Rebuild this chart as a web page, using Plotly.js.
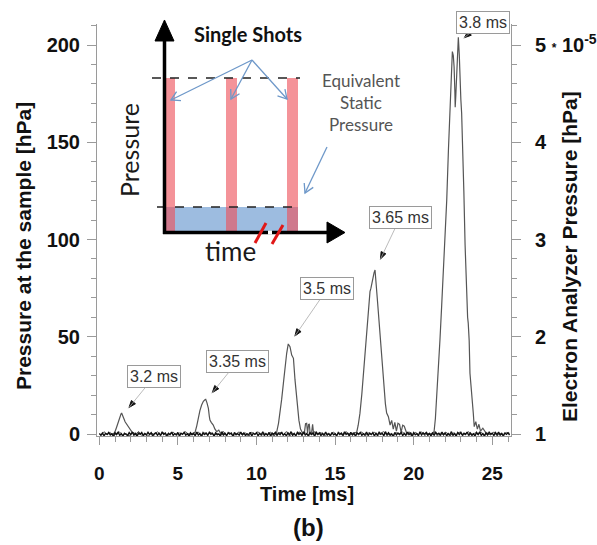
<!DOCTYPE html>
<html>
<head>
<meta charset="utf-8">
<script src="https://cdn.plot.ly/plotly-3.0.1.min.js"></script>
<style>
  html, body { margin: 0; padding: 0; background: #fff; }
  #chart { width: 597px; height: 545px; }
</style>
</head>
<body>
<div id="chart"></div>
<script>
// ---------------- DATA ----------------
// Noisy baseline (hPa), sampled every 0.1 ms from 0 ms
const baseStart = 0;
const baseStep = 0.1;
const baseValues = [
  0.2,-0.6,0.5,-0.9,0.3,-0.2,0.8,-0.5,0.1,-1.0,
  0.6,-0.3,0.9,-0.7,0.2,-1.1,0.4,0.0,-0.8,0.7,
  -0.4,1.0,-0.6,0.3,-1.2,0.5,-0.1,0.8,-0.9,0.2,
  -0.5,0.9,-0.3,0.6,-1.0,0.1,0.7,-0.6,0.4,-0.8,
  1.1,-0.2,0.5,-0.9,0.3,-0.4,1.0,-0.7,0.2,-0.3,
  0.8,-1.1,0.4,-0.2,0.9,-0.6,0.1,-0.9,0.6,-0.4,
  0.3,-0.8,1.0,-0.5,0.2,-1.0,0.7,-0.3,0.5,-0.7,
  0.9,-0.2,0.4,-1.1,0.6,-0.4,0.1,-0.8,1.2,-0.5,
  0.3,-0.9,0.7,-0.1,0.5,-1.2,0.8,-0.4,0.2,-0.6,
  1.0,-0.3,0.6,-0.8,0.1,-0.5,0.9,-1.0,0.4,-0.2,
  0.7,-0.9,0.3,-0.4,1.1,-0.7,0.2,-0.6,0.8,-1.1,
  0.5,-0.2,0.9,-0.8,0.4,-0.3,1.0,-0.6,0.1,-0.9,
  0.6,-0.4,1.2,-0.7,0.3,-1.0,0.8,-0.2,0.5,-0.8,
  1.1,-0.5,0.2,-0.9,0.7,-0.3,0.4,-1.2,0.9,-0.1,
  0.6,-0.8,0.3,-0.5,1.0,-0.6,0.2,-0.9,0.8,-0.4,
  0.1,-1.0,0.7,-0.3,0.5,-0.7,1.1,-0.2,0.4,-0.9,
  0.9,-0.5,0.3,-1.1,0.6,-0.1,0.8,-0.7,0.2,-0.4,
  1.0,-0.8,0.5,-0.3,0.7,-1.0,0.4,-0.6,0.9,-0.2,
  0.3,-0.9,1.2,-0.4,0.6,-0.7,0.1,-1.1,0.8,-0.5,
  0.5,-0.2,0.9,-0.8,0.3,-0.6,1.0,-0.3,0.4,-1.0,
  0.7,-0.4,0.2,-0.9,1.1,-0.5,0.6,-0.1,0.8,-0.7,
  0.3,-1.0,0.5,-0.6,0.9,-0.2,0.4,-0.8,1.0,-0.4,
  0.6,-0.9,0.2,-0.5,1.2,-0.7,0.3,-1.1,0.7,-0.3,
  0.9,-0.6,0.4,-0.2,1.0,-0.8,0.5,-0.4,0.1,-1.0,
  0.8,-0.3,1.1,-0.7,0.2,-0.9,0.6,-0.5,0.9,-0.1,
  0.4,-0.8,0.7,-0.4,1.0,-0.6,0.3,-1.1,0.5,-0.2,
  0.6,-0.5
];
// Second (grey) baseline record, sampled every 0.2 ms from 0.1 ms
const base2Start = 0.1;
const base2Step = 0.2;
const base2Values = [
  -0.9,1.2,-0.4,0.8,-1.3,0.5,1.0,-0.7,0.3,-1.1,
  0.9,-0.2,1.3,-0.8,0.4,-1.2,0.7,-0.5,1.1,-0.3,
  0.6,-1.4,0.2,1.0,-0.9,0.5,-0.1,1.2,-1.0,0.3,
  -0.6,1.1,-1.3,0.7,-0.2,0.9,-0.8,0.4,-1.2,1.3,
  -0.5,0.8,-1.0,0.2,1.1,-0.7,0.6,-1.3,0.9,-0.3,
  1.2,-0.9,0.4,-0.6,1.0,-1.1,0.3,0.8,-0.4,1.3,
  -1.2,0.5,-0.8,1.1,-0.2,0.7,-1.0,0.4,1.2,-0.6,
  0.9,-1.3,0.2,-0.7,1.0,-0.4,0.6,-1.1,1.3,-0.9,
  0.3,0.8,-0.5,1.1,-1.2,0.6,-0.3,0.9,-1.0,0.5,
  1.2,-0.8,0.2,-1.1,0.7,-0.4,1.0,-0.6,0.3,-1.3,
  0.9,-0.2,1.1,-0.9,0.5,-0.7,1.3,-1.0,0.4,-0.5,
  0.8,-1.2,0.6,-0.3,1.0,-0.8,0.2,1.2,-1.1,0.7,
  -0.4,0.9,-1.0,0.5,-0.6,1.1,-0.9,0.3,-0.2,0.8,
  0.4
];

// Single-shot pulses (time in ms, pressure in hPa)
const shot320T = [0.6,0.8,0.95,1.0,1.1,1.2,1.3,1.38,1.42,1.48,1.56,1.64,1.75,1.85,1.95,2.06,2.2,2.4,2.6];
const shot320P = [0.4,-0.3,0.5,1.2,3.5,6.2,8.8,10.3,10.8,9.9,8.0,6.3,5.0,3.6,2.2,1.2,0.5,-0.2,0.3];

const shot335T = [5.6,5.8,6.0,6.09,6.2,6.3,6.4,6.51,6.62,6.72,6.77,6.85,6.94,7.0,7.04,7.12,7.25,7.35,7.47,7.6,7.7,7.85,8.0];
const shot335P = [0.3,-0.4,0.6,0.8,4.2,8.9,12.0,14.9,16.8,17.6,17.8,16.0,13.2,9.0,7.2,6.0,4.6,2.6,1.2,2.0,0.6,-0.3,0.4];

const shot350T = [10.8,11.0,11.2,11.28,11.4,11.5,11.6,11.71,11.82,11.92,12.02,12.13,12.24,12.3,12.35,12.45,12.53,12.6,12.7,12.8,12.93,13.05,13.12,13.19,13.25,13.31,13.36,13.41,13.5,13.57,13.63,13.75,13.9,14.1];
const shot350P = [0.2,-0.4,0.5,0.8,5.5,10.6,17.8,26.0,34.5,41.5,46.3,44.9,40.6,40.0,38.9,27.8,20.0,14.0,7.0,2.5,0.5,0.8,5.3,5.5,0.6,4.9,5.0,0.5,0.4,5.0,0.3,0.8,-0.3,0.4];

const shot365T = [15.8,16.0,16.2,16.37,16.47,16.58,16.7,16.8,16.9,17.01,17.12,17.22,17.28,17.35,17.41,17.48,17.54,17.62,17.7,17.79,17.88,17.96,18.04,18.11,18.2,18.28,18.39,18.5,18.6,18.7,18.8,18.9,19.0,19.1,19.2,19.3,19.4,19.55,19.7,19.9];
const shot365P = [0.3,-0.2,0.6,0.7,4.5,10.6,20.5,31.2,42.0,53.5,64.0,73.2,75.0,78.0,80.9,83.0,84.3,77.5,68.0,58.6,48.5,39.7,30.0,22.6,15.5,10.8,8.9,4.6,7.0,2.5,6.0,1.5,5.5,5.0,1.0,4.5,4.0,0.5,1.0,0.2];

const shot380T = [20.8,21.0,21.2,21.29,21.38,21.46,21.56,21.67,21.78,21.88,21.99,22.1,22.21,22.32,22.43,22.46,22.52,22.57,22.62,22.64,22.68,22.74,22.8,22.84,22.9,22.94,23.0,23.05,23.08,23.11,23.19,23.27,23.37,23.43,23.47,23.53,23.58,23.69,23.79,23.85,23.95,24.05,24.15,24.25,24.4,24.6,24.8,25.0];
const shot380P = [0.4,-0.2,0.5,0.7,8.0,17.5,32.0,48.3,66.0,82.6,95.0,120.0,146.0,170.0,194.0,196.6,194.5,188.8,176.0,168.0,174.0,188.8,200.0,204.0,195.0,180.0,172.0,165.0,158.0,150.0,125.0,97.0,65.4,60.0,57.0,48.0,31.2,17.5,10.8,3.8,6.3,2.5,5.0,1.5,3.0,0.5,-0.2,0.3];

// Labels of the pulses and where their arrows point (ms, hPa)
const shotLabels = ['3.2 ms','3.35 ms','3.5 ms','3.65 ms','3.8 ms'];
const labelT = [1.85, 7.15, 12.41, 17.86, 23.17];
const labelP = [13.2, 20.9, 50.0, 89.5, 203.4];

// Axis ticks
const xTicks = [0,5,10,15,20,25];
const yTicks = [0,50,100,150,200];
const y2Ticks = [1,2,3,4,5];
const y2TickText = ['1','2','3','4','5 <span style="font-size:12px">*</span> 10<sup>-5</sup>'];

// ---------------- LAYOUT HELPERS (pixels -> paper) ----------------
const W = 597, H = 545;
const ML = 97, MR = 86, MT = 24, MB = 109;
const PW = W - ML - MR, PH = H - MT - MB;
const PX = p => (p - ML) / PW;
const PY = p => (H - MB - p) / PH;

// Label box offsets (pixels) from the arrow point
const labelDX = [26, 26, 33, 20, 19];
const labelDY = [-32, -32, -48, -42, -16];

// ---------------- TRACES ----------------
const baseT = baseValues.map((_, i) => +(baseStart + i * baseStep).toFixed(2));
const base2T = base2Values.map((_, i) => +(base2Start + i * base2Step).toFixed(2));
const grey = '#555555';
const traces = [
  {x: base2T, y: base2Values, mode: 'lines', line: {color: '#555', width: 1}, showlegend: false, hoverinfo: 'skip'},
  {x: shot320T, y: shot320P, mode: 'lines', line: {color: grey, width: 1.2}, showlegend: false, hoverinfo: 'skip'},
  {x: shot335T, y: shot335P, mode: 'lines', line: {color: grey, width: 1.2}, showlegend: false, hoverinfo: 'skip'},
  {x: shot350T, y: shot350P, mode: 'lines', line: {color: grey, width: 1.2}, showlegend: false, hoverinfo: 'skip'},
  {x: shot365T, y: shot365P, mode: 'lines', line: {color: grey, width: 1.2}, showlegend: false, hoverinfo: 'skip'},
  {x: shot380T, y: shot380P, mode: 'lines', line: {color: grey, width: 1.2}, showlegend: false, hoverinfo: 'skip'},
  {x: baseT, y: baseValues, mode: 'lines', line: {color: '#111', width: 1.4}, showlegend: false, hoverinfo: 'skip'},
  {x: [null], y: [null], yaxis: 'y2', mode: 'lines', showlegend: false, hoverinfo: 'skip'}
];

// ---------------- ANNOTATIONS & SHAPES ----------------
const boldFont = (size) => ({family: 'Liberation Sans, Arial, sans-serif', size: size, color: '#111', weight: 'bold'});
const annotations = [];
const shapes = [];

shotLabels.forEach((txt, i) => {
  annotations.push({
    x: labelT[i], y: labelP[i], xref: 'x', yref: 'y',
    text: txt, showarrow: true, ax: labelDX[i], ay: labelDY[i],
    arrowhead: 0, arrowcolor: '#aaaaaa', arrowwidth: 0.8,
    font: {family: 'Liberation Sans, Arial, sans-serif', size: 16, color: '#333'},
    bgcolor: '#ffffff', bordercolor: '#9a9a9a', borderwidth: 1, borderpad: 2
  });
  // small black arrowhead at the pointed position (pixel-sized shape anchored to the data point)
  const L = Math.hypot(labelDX[i], labelDY[i]);
  const ux = labelDX[i] / L, uy = -labelDY[i] / L;   // toward the label, y up
  const px = -uy, py = ux;
  const t0 = 1, t1 = 8, hw = 2.6;
  const pts = [
    [ux * t0, uy * t0],
    [ux * t1 + px * hw, uy * t1 + py * hw],
    [ux * t1 - px * hw, uy * t1 - py * hw]
  ];
  shapes.push({
    type: 'path', xref: 'x', yref: 'y', xsizemode: 'pixel', ysizemode: 'pixel',
    xanchor: labelT[i], yanchor: labelP[i],
    path: 'M' + pts.map(p => p[0].toFixed(2) + ',' + p[1].toFixed(2)).join(' L') + ' Z',
    fillcolor: '#111', line: {color: '#111', width: 1}, layer: 'above'
  });
});

// axis titles
annotations.push({x: PX(23), y: PY(246), xref: 'paper', yref: 'paper', text: 'Pressure at the sample [hPa]',
  textangle: -90, showarrow: false, font: boldFont(21), xanchor: 'center', yanchor: 'middle'});
annotations.push({x: PX(569), y: PY(257), xref: 'paper', yref: 'paper', text: 'Electron Analyzer Pressure [hPa]',
  textangle: -90, showarrow: false, font: boldFont(21), xanchor: 'center', yanchor: 'middle'});
annotations.push({x: PX(307), y: PY(494), xref: 'paper', yref: 'paper', text: 'Time [ms]',
  showarrow: false, font: boldFont(20), xanchor: 'center', yanchor: 'middle'});
annotations.push({x: PX(308), y: PY(527), xref: 'paper', yref: 'paper', text: '(b)',
  showarrow: false, font: boldFont(24), xanchor: 'center', yanchor: 'middle'});

// inset texts
const insetFont = 'Lato, Open Sans, sans-serif';
annotations.push({x: PX(248), y: PY(34), xref: 'paper', yref: 'paper', text: 'Single Shots', showarrow: false,
  font: {family: insetFont, size: 20, color: '#111', weight: 'bold'}, xanchor: 'center', yanchor: 'middle'});
annotations.push({x: PX(129), y: PY(150), xref: 'paper', yref: 'paper', text: 'Pressure', textangle: -90, showarrow: false,
  font: {family: insetFont, size: 25, color: '#1a1a1a'}, xanchor: 'center', yanchor: 'middle'});
annotations.push({x: PX(230), y: PY(251), xref: 'paper', yref: 'paper', text: 'time', showarrow: false,
  font: {family: insetFont, size: 26, color: '#1a1a1a'}, xanchor: 'center', yanchor: 'middle'});
annotations.push({x: PX(361), y: PY(102), xref: 'paper', yref: 'paper', text: 'Equivalent<br>Static<br>Pressure', showarrow: false,
  font: {family: insetFont, size: 17, color: '#555'}, xanchor: 'center', yanchor: 'middle', align: 'center'});

// ---------------- INSET SHAPES ----------------
const rectPx = (x0, y0, x1, y1, fill) => shapes.push({type: 'rect', xref: 'paper', yref: 'paper',
  x0: PX(x0), x1: PX(x1), y0: PY(y1), y1: PY(y0), fillcolor: fill, line: {width: 0}, layer: 'above'});
const linePx = (x0, y0, x1, y1, color, width, dash) => shapes.push({type: 'line', xref: 'paper', yref: 'paper',
  x0: PX(x0), y0: PY(y0), x1: PX(x1), y1: PY(y1), line: {color: color, width: width, dash: dash || 'solid'}, layer: 'above'});
const pathPx = (pts, fill, color, width, closed) => {
  let d = pts.map((p, i) => (i ? 'L' : 'M') + PX(p[0]).toFixed(5) + ',' + PY(p[1]).toFixed(5)).join(' ');
  if (closed) d += ' Z';
  shapes.push({type: 'path', xref: 'paper', yref: 'paper', path: d, fillcolor: fill || 'rgba(0,0,0,0)',
    line: {color: color, width: width}, layer: 'above'});
};
const veePx = (x0, y0, x1, y1, color, width) => {
  const dx = x1 - x0, dy = y1 - y0, L = Math.hypot(dx, dy), ux = dx / L, uy = dy / L;
  const len = 10, a = 30 * Math.PI / 180, c = Math.cos(a), s = Math.sin(a);
  const lx = x1 - len * (ux * c - uy * s), ly = y1 - len * (uy * c + ux * s);
  const rx = x1 - len * (ux * c + uy * s), ry = y1 - len * (uy * c - ux * s);
  pathPx([[x0, y0], [x1, y1]], null, color, width);
  pathPx([[lx, ly], [x1, y1], [rx, ry]], null, color, width);
};

// blue "equivalent static" band, then red shots
rectPx(164, 207, 298, 233, 'rgba(140,176,218,0.85)');
rectPx(164, 78, 175, 233, 'rgba(238,80,90,0.62)');
rectPx(226, 78, 237, 233, 'rgba(238,80,90,0.62)');
rectPx(287, 78, 298, 233, 'rgba(238,80,90,0.62)');
// dashed levels
linePx(152, 78, 300, 78, '#222', 1.3, 'dash');
linePx(157, 207, 300, 207, '#222', 1.3, 'dash');
// axes of the sketch
linePx(164.5, 234, 164.5, 38, '#000', 3.5);
pathPx([[155, 41], [174, 41], [164.5, 20]], '#000', '#000', 1, true);
linePx(163, 232.5, 330, 232.5, '#000', 3.5);
pathPx([[327, 222], [327, 243], [345, 232.5]], '#000', '#000', 1, true);
// axis break marks
linePx(268, 232.5, 272, 232.5, '#fff', 4);
linePx(255, 243, 266, 223, '#e01818', 3);
linePx(272, 244, 283, 225, '#e01818', 3);
// blue pointer arrows
const blue = '#6e98c9';
veePx(252, 60, 171, 100, blue, 1.3);
veePx(252, 60, 231, 99, blue, 1.3);
veePx(252, 60, 287, 99, blue, 1.3);
veePx(327, 147, 305, 193, blue, 1.3);

// ---------------- LAYOUT ----------------
const axisGrey = '#9a9a9a';
const layout = {
  width: W, height: H,
  margin: {l: ML, r: MR, t: MT, b: MB, pad: 0},
  paper_bgcolor: '#fff', plot_bgcolor: '#fff',
  showlegend: false,
  xaxis: {
    range: [-0.146, 26.19], tickmode: 'array', tickvals: xTicks,
    showline: true, linecolor: axisGrey, linewidth: 1, showgrid: false, zeroline: false,
    ticks: 'outside', ticklen: 8, tickcolor: axisGrey, tickwidth: 1,
    minor: {tickmode: 'linear', tick0: 0, dtick: 1, ticks: 'outside', ticklen: 5, tickcolor: axisGrey, showgrid: false},
    tickfont: boldFont(19), ticklabelstandoff: 12
  },
  yaxis: {
    range: [-1.03, 210.8], tickmode: 'array', tickvals: yTicks,
    showline: true, linecolor: axisGrey, linewidth: 1, showgrid: false, zeroline: false,
    ticks: 'outside', ticklen: 9, tickcolor: axisGrey, tickwidth: 1,
    minor: {tickmode: 'linear', tick0: 0, dtick: 10, ticks: 'outside', ticklen: 5, tickcolor: axisGrey, showgrid: false},
    tickfont: boldFont(20), ticklabelstandoff: 3
  },
  yaxis2: {
    overlaying: 'y', side: 'right',
    range: [0.9794, 5.216], tickmode: 'array', tickvals: y2Ticks, ticktext: y2TickText,
    showline: true, linecolor: axisGrey, linewidth: 1, showgrid: false, zeroline: false,
    ticks: 'outside', ticklen: 9, tickcolor: axisGrey, tickwidth: 1,
    minor: {tickmode: 'linear', tick0: 1, dtick: 0.2, ticks: 'outside', ticklen: 5, tickcolor: axisGrey, showgrid: false},
    tickfont: boldFont(20), ticklabelstandoff: 10
  },
  annotations: annotations,
  shapes: shapes
};

Plotly.newPlot('chart', traces, layout, {staticPlot: true, displayModeBar: false});
</script>
</body>
</html>
